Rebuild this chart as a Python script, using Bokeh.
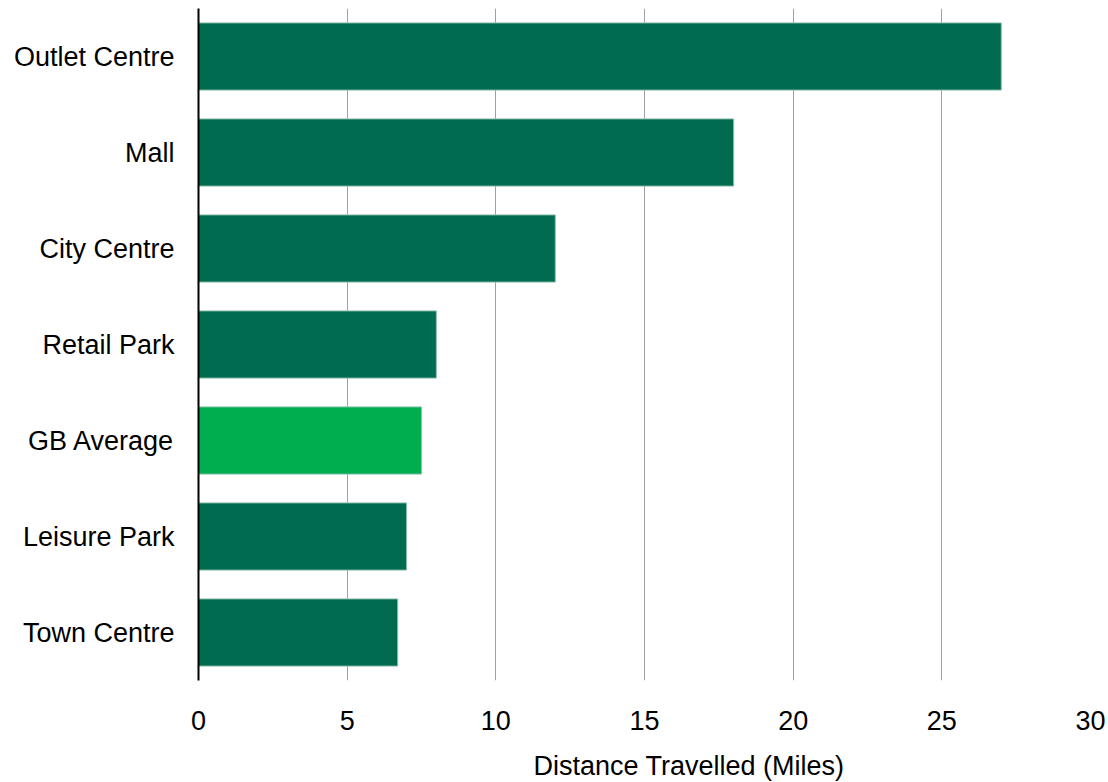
from bokeh.plotting import figure
from bokeh.models import Range1d, FactorRange, ColumnDataSource, FixedTicker, Title
from bokeh.embed import file_html
from bokeh.resources import INLINE

# Average distance travelled by shopping destination type
destinations = ["Outlet Centre", "Mall", "City Centre", "Retail Park",
                "GB Average", "Leisure Park", "Town Centre"]
miles = [27, 18, 12, 8, 7.5, 7, 6.7]
x_ticks = [0, 5, 10, 15, 20, 25, 30]

DARK = "#006b4e"
LIGHT = "#00ae4f"
colors = [LIGHT if d == "GB Average" else DARK for d in destinations]

source = ColumnDataSource(dict(dest=destinations, miles=miles, color=colors))

FONT = "Liberation Sans"
SIZE = "27px"

p = figure(width=1108, height=782,
           y_range=FactorRange(*reversed(destinations), range_padding=0),
           x_range=Range1d(0, 30),
           output_backend="svg", toolbar_location=None,
           min_border_left=198, min_border_right=18,
           min_border_top=8, min_border_bottom=101)

p.hbar(y="dest", right="miles", left=0, height=0.7, source=source,
       fill_color="color", line_color="#8fc2b0", line_width=1)

p.outline_line_color = None
p.background_fill_color = "white"
p.border_fill_color = "white"

# vertical gridlines only
p.ygrid.grid_line_color = None
p.xgrid.grid_line_color = "#a0a0a0"
p.xgrid.grid_line_width = 1
p.xgrid.ticker = FixedTicker(ticks=x_ticks)

# x axis: labels only, no line or ticks
xa = p.xaxis[0]
xa.ticker = FixedTicker(ticks=x_ticks)
xa.axis_line_color = None
xa.major_tick_line_color = None
xa.minor_tick_line_color = None
xa.major_tick_out = 0
xa.major_tick_in = 0
xa.major_label_standoff = 30
xa.major_label_text_font = FONT
xa.major_label_text_font_size = SIZE
xa.major_label_text_color = "black"

# axis title below the tick labels, set right of the frame centre;
# top padding pushes the text down inside its panel
p.add_layout(Title(text="Distance Travelled (Miles)", align="left", offset=335,
                   vertical_align="top",
                   padding=dict(top=18, bottom=0, left=0, right=0),
                   text_font=FONT, text_font_size=SIZE,
                   text_font_style="normal", text_color="black",
                   standoff=0), "below")

# y axis: solid black line with category names
ya = p.yaxis[0]
ya.axis_line_color = "black"
ya.axis_line_width = 2
ya.major_tick_line_color = None
ya.minor_tick_line_color = None
ya.major_tick_out = 0
ya.major_tick_in = 0
ya.major_label_standoff = 24
ya.major_label_text_font = FONT
ya.major_label_text_font_size = SIZE
ya.major_label_text_color = "black"

open("out.html", "w").write(file_html(p, INLINE))
